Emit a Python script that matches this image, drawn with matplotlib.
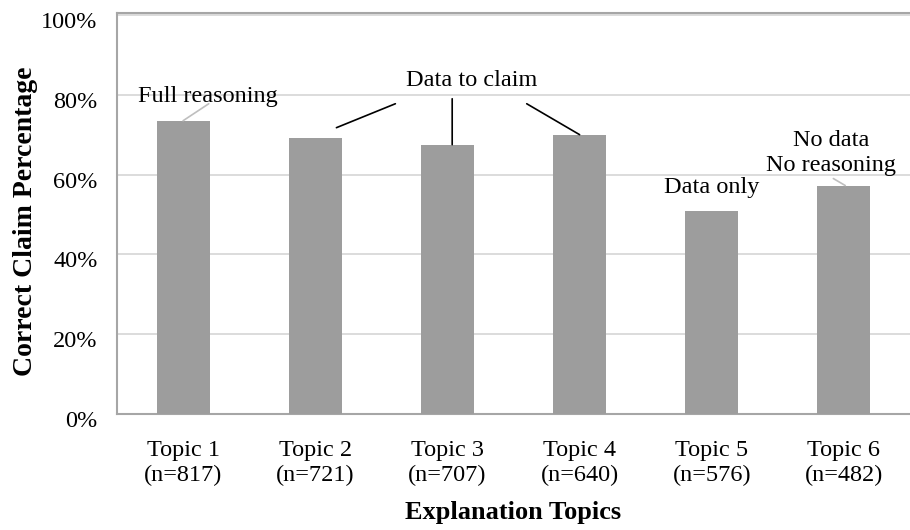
import matplotlib
matplotlib.use("Agg")
import matplotlib.pyplot as plt
import matplotlib.transforms as mtransforms
from matplotlib.ticker import PercentFormatter

plt.rcParams['font.family'] = ['Liberation Serif', 'DejaVu Serif']

topics = ["Topic 1", "Topic 2", "Topic 3", "Topic 4", "Topic 5", "Topic 6"]
counts = [817, 721, 707, 640, 576, 482]
correct = [0.735, 0.6925, 0.675, 0.70, 0.5075, 0.5725]

bar_color = "#9d9d9d"
grid_color = "#d9d9d9"
spine_color = "#a6a6a6"
fs = 17.5

fig = plt.figure(figsize=(9.1, 5.3), dpi=100)
ax = fig.add_axes([0.1286, 0.219, 0.8714, 0.7565])

x = list(range(len(topics)))
ax.bar(x, correct, width=0.4, color=bar_color, zorder=3)

ax.set_xlim(-0.5, len(topics) - 0.5)
ax.set_ylim(0, 1.005)
ax.set_yticks([0, 0.2, 0.4, 0.6, 0.8, 1.0])
ax.yaxis.set_major_formatter(PercentFormatter(1.0, decimals=0))
ax.set_xticks(x)
ax.set_xticklabels([f"{t}\n(n={n})" for t, n in zip(topics, counts)], linespacing=1.2)
ax.tick_params(axis='both', length=0, labelsize=fs, colors='black')
ax.tick_params(axis='x', pad=19)
ax.tick_params(axis='y', pad=14)

# y tick labels sit a little under their grid lines
shift = mtransforms.ScaledTranslation(0, -5 / 100, fig.dpi_scale_trans)
for lbl in ax.get_yticklabels():
    lbl.set_transform(lbl.get_transform() + shift)

ax.grid(axis='y', color=grid_color, linewidth=1.3, zorder=0)
for side in ['left', 'bottom', 'top']:
    ax.spines[side].set_color(spine_color)
    ax.spines[side].set_linewidth(1.5)
ax.spines['right'].set_visible(False)

ax.set_ylabel("Correct Claim Percentage", fontsize=20, fontweight='bold', va='center')
ax.yaxis.set_label_coords(-0.116, 0.481)
ax.set_xlabel("Explanation Topics", fontsize=19, fontweight='bold', va='center')
ax.xaxis.set_label_coords(0.5, -0.247)

# category labels above the bars
ax.text(0.187, 0.795, "Full reasoning", ha='center', va='center', fontsize=fs, zorder=4)
ax.text(2.18, 0.835, "Data to claim", ha='center', va='center', fontsize=fs, zorder=4)
ax.text(4.0, 0.5675, "Data only", ha='center', va='center', fontsize=fs, zorder=4)
ax.text(4.90, 0.654, "No data\nNo reasoning", ha='center', va='center', fontsize=fs,
        linespacing=1.3, zorder=4)

def leader(x0, y0, x1, y1, color):
    ax.annotate("", xy=(x0, y0), xytext=(x1, y1),
                arrowprops=dict(arrowstyle='-', color=color, lw=1.2,
                                shrinkA=0, shrinkB=0), zorder=4)

leader(0.0, correct[0], 0.194, 0.7775, "#bfbfbf")
leader(1.16, correct[1] + 0.025, 1.606, 0.7775, "black")
leader(2.036, correct[2], 2.036, 0.79, "black")
leader(3.0, correct[3], 2.60, 0.7775, "black")
leader(5.01, correct[5], 4.92, 0.59, "#bfbfbf")

fig.savefig("out.png", dpi=100)
